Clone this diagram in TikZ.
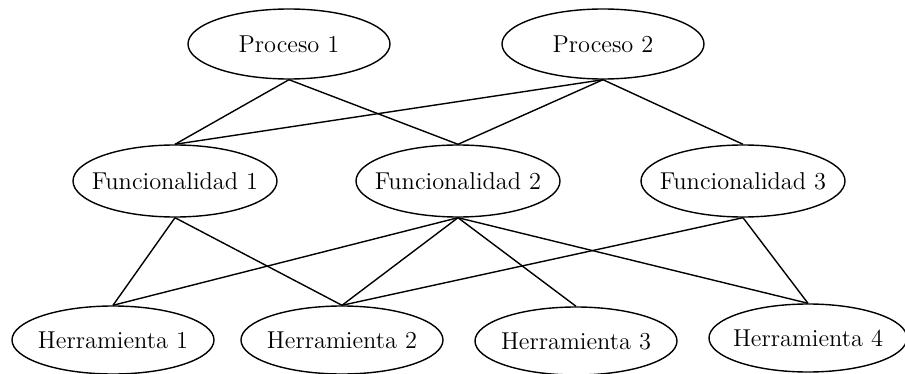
\documentclass[tikz,border=0pt]{standalone}
\usetikzlibrary{shapes.geometric}
\begin{document}
\begin{tikzpicture}[x=0.5pt,y=-0.5pt,line width=0.7pt,
  ell/.style={draw,ellipse,inner sep=0pt,minimum width=101pt,minimum height=35pt},
  lbl/.style={font=\fontsize{12.2}{14}\selectfont},
  edge/.style={draw,line width=0.7pt}]
\useasboundingbox (0,0) rectangle (905,374);
\node[ell] (p1) at (289,44) {};
\node[lbl] at (p1) {Proceso 1};
\node[ell] (p2) at (603,44) {};
\node[lbl] at (p2) {Proceso 2};
\node[ell,minimum width=102pt,minimum height=36pt] (f1) at (175,181) {};
\node[lbl] at (f1) {Funcionalidad 1};
\node[ell,minimum width=102pt,minimum height=36pt] (f2) at (458,181) {};
\node[lbl] at (f2) {Funcionalidad 2};
\node[ell,minimum width=102pt,minimum height=36pt] (f3) at (743,181) {};
\node[lbl] at (f3) {Funcionalidad 3};
\node[ell,minimum height=34pt] (h1) at (113,340) {};
\node[lbl] at (h1) {Herramienta 1};
\node[ell,minimum height=34pt] (h2) at (342,340) {};
\node[lbl] at (h2) {Herramienta 2};
\node[ell,minimum height=34pt] (h3) at (576,341) {};
\node[lbl] at (h3) {Herramienta 3};
\node[ell,minimum width=99pt,minimum height=34pt] (h4) at (808,338) {};
\node[lbl] at (h4) {Herramienta 4};
\draw[edge] (p1.south) -- (f1.north);
\draw[edge] (p1.south) -- (f2.north);
\draw[edge] (p2.south) -- (f1.north);
\draw[edge] (p2.south) -- (f2.north);
\draw[edge] (p2.south) -- (f3.north);
\draw[edge] (f1.south) -- (h1.north);
\draw[edge] (f1.south) -- (h2.north);
\draw[edge] (f2.south) -- (h1.north);
\draw[edge] (f2.south) -- (h2.north);
\draw[edge] (f2.south) -- (h3.north);
\draw[edge] (f2.south) -- (h4.north);
\draw[edge] (f3.south) -- (h2.north);
\draw[edge] (f3.south) -- (h4.north);
\end{tikzpicture}
\end{document}
